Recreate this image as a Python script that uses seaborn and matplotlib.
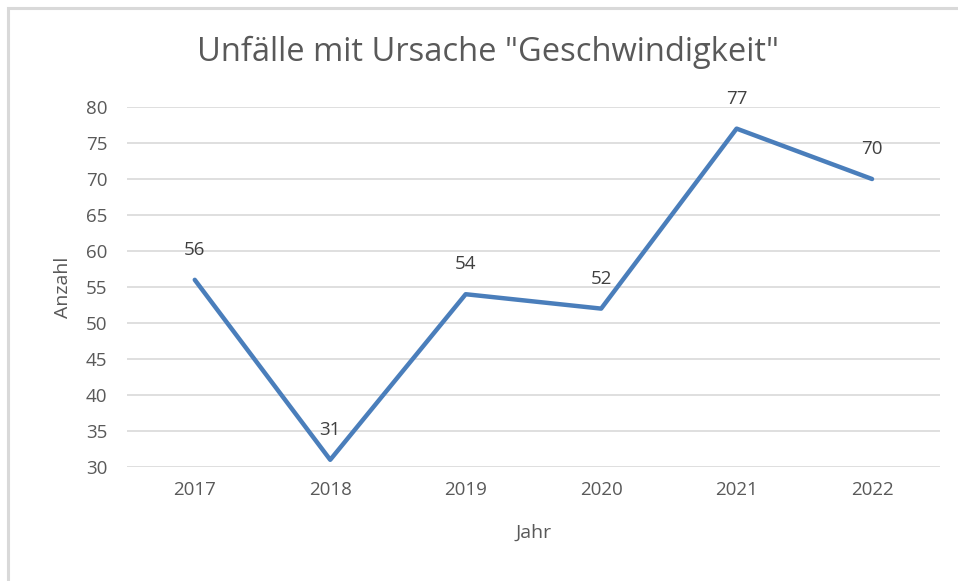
import matplotlib
matplotlib.use("Agg")
import matplotlib.pyplot as plt
import seaborn as sns
import pandas as pd

# Daten
jahre = ["2017", "2018", "2019", "2020", "2021", "2022"]
anzahl = [56, 31, 54, 52, 77, 70]
y_ticks = [30, 35, 40, 45, 50, 55, 60, 65, 70, 75, 80]

df = pd.DataFrame({"Jahr": jahre, "Anzahl": anzahl})

sns.set_style("white")
plt.rcParams["font.family"] = ["Open Sans", "DejaVu Sans"]

grau = "#595959"
fig = plt.figure(figsize=(9.58, 5.81), dpi=100)
ax = fig.add_axes([0.1326, 0.1962, 0.8484, 0.6196])

# Rahmen (nur links/oben sichtbar, Screenshot abgeschnitten)
rahmen = plt.Rectangle((8 / 958, -0.1), 1.2, 1 - 8 / 581 + 0.1, transform=fig.transFigure,
                       fill=False, edgecolor="#d9d9d9", linewidth=2.2, zorder=-1)
fig.patches.append(rahmen)

sns.lineplot(data=df, x="Jahr", y="Anzahl", ax=ax, color="#4a7ebb", linewidth=3.2,
             sort=False)

for i, v in enumerate(anzahl):
    ax.annotate(str(v), (i, v), xytext=(0, 15), textcoords="offset points",
                ha="center", va="bottom", fontsize=13.5, color="#404040")

ax.set_ylim(30, 80)
ax.set_xlim(-0.5, len(jahre) - 0.5)
ax.set_yticks(y_ticks)
ax.yaxis.grid(True, color="#d9d9d9", linewidth=1.2)
ax.set_axisbelow(True)
for s in ax.spines.values():
    s.set_visible(False)
ax.tick_params(axis="both", length=0, labelsize=13.5, labelcolor=grau)
ax.tick_params(axis="y", pad=14)
ax.tick_params(axis="x", pad=10)

# Titel ist auf die ganze Grafik zentriert, nicht auf die Achsen
fig.text(0.509, 0.91, 'Unfälle mit Ursache "Geschwindigkeit"', fontsize=23.5,
         color=grau, ha="center", va="center")
ax.set_xlabel("Jahr", fontsize=14, color=grau, labelpad=18)
ax.set_ylabel("Anzahl", fontsize=14, color=grau, labelpad=10)

fig.savefig("out.png", dpi=100)
